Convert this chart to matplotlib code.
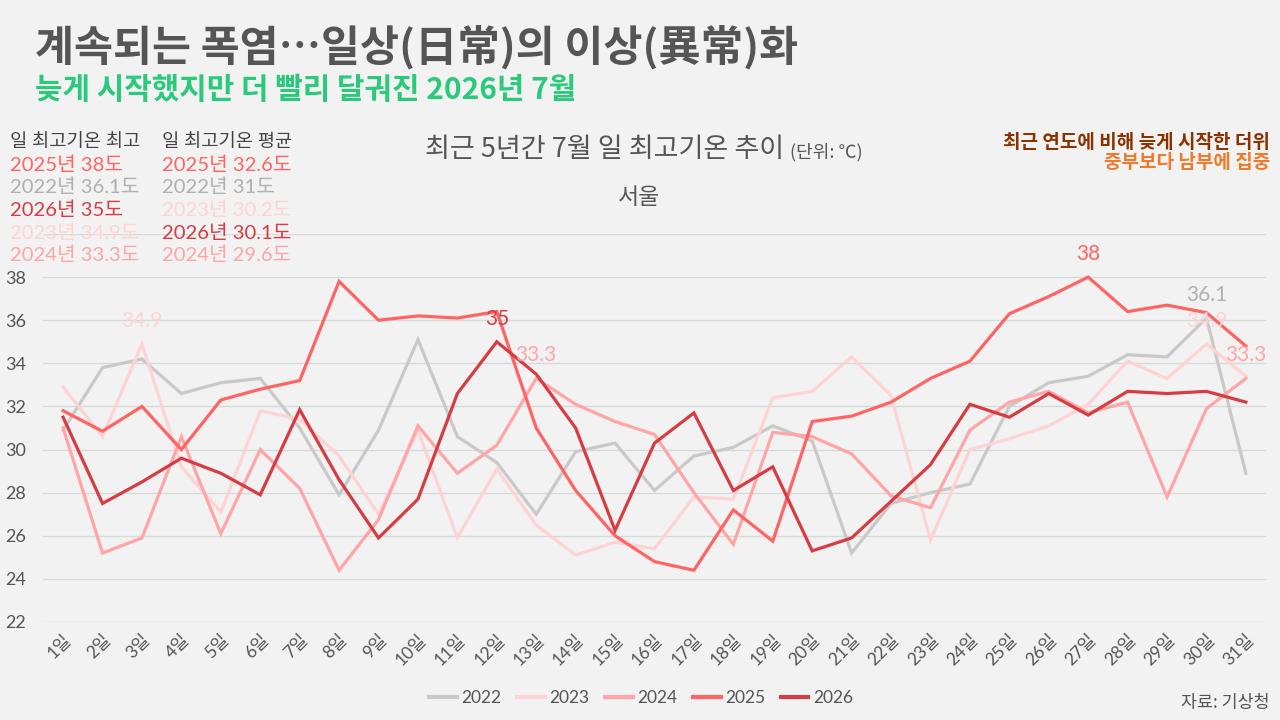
import matplotlib
matplotlib.use("Agg")
import matplotlib.pyplot as plt
from matplotlib.lines import Line2D

plt.rcParams['font.family'] = ['Lato', 'Noto Sans CJK KR', 'DejaVu Sans']
KR = ['Noto Sans CJK KR', 'DejaVu Sans']

# --- data: July daily max temperature, Seoul (°C) ---
days = list(range(1, 32))
day_labels = [f"{d}일" for d in days]
years = ["2022", "2023", "2024", "2025", "2026"]
t2022 = [30.9, 33.8, 34.2, 32.6, 33.1, 33.3, 31.0, 27.9, 30.9, 35.1,
         30.6, 29.4, 27.0, 29.9, 30.3, 28.1, 29.7, 30.1, 31.1, 30.4, 25.2,
         27.5, 28.0, 28.4, 32.0, 33.1, 33.4, 34.4, 34.3, 36.1, 28.9]
t2023 = [32.9, 30.6, 34.9, 29.2, 27.1, 31.8, 31.4, 29.7, 27.0, 30.9,
         25.9, 29.1, 26.5, 25.1, 25.7, 25.4, 27.8, 27.7, 32.4, 32.7, 34.3,
         32.5, 25.8, 30.0, 30.5, 31.1, 32.1, 34.1, 33.3, 34.9, 33.4]
t2024 = [31.0, 25.2, 25.9, 30.6, 26.1, 30.0, 28.2, 24.4, 26.75, 31.1,
         28.9, 30.2, 33.3, 32.1, 31.3, 30.7, 28.0, 25.6, 30.8, 30.6, 29.8,
         27.85, 27.3, 30.9, 32.2, 32.7, 31.7, 32.2, 27.8, 31.9, 33.3]
t2025 = [31.8, 30.85, 32.0, 30.0, 32.3, 32.8, 33.2, 37.8, 36.0, 36.2,
         36.1, 36.4, 31.0, 28.1, 26.0, 24.8, 24.4, 27.2, 25.75, 31.3, 31.55,
         32.2, 33.3, 34.1, 36.3, 37.1, 38.0, 36.4, 36.7, 36.35, 34.8]
t2026 = [31.5, 27.5, 28.5, 29.6, 28.9, 27.9, 31.85, 28.6, 25.9, 27.7,
         32.6, 35.0, 33.5, 31.0, 26.25, 30.3, 31.7, 28.1, 29.2, 25.3, 25.9,
         27.6, 29.3, 32.1, 31.5, 32.6, 31.6, 32.7, 32.6, 32.7, 32.2]
series = [t2022, t2023, t2024, t2025, t2026]

# points that get a value label: (year, day)
peak_labels = [("2023", 3), ("2026", 12), ("2024", 13), ("2025", 27),
               ("2022", 30), ("2023", 30), ("2024", 31)]

# left side ranking blocks
max_rank = [("2025", "38"), ("2022", "36.1"), ("2026", "35"), ("2023", "34.9"), ("2024", "33.3")]
avg_rank = [("2025", "32.6"), ("2022", "31"), ("2023", "30.2"), ("2026", "30.1"), ("2024", "29.6")]

line_colors = {"2022": "#c9c9c9", "2023": "#ffd3d3", "2024": "#ffa5a5",
               "2025": "#ff6464", "2026": "#d63c42"}
text_colors = {"2022": "#b0b0b0", "2023": "#ffd3d3", "2024": "#ffa5a5",
               "2025": "#ff6464", "2026": "#d63c42"}

BG = "#f2f2f2"
W, H = 1280, 720


def px(x, y):
    return x / W, 1 - y / H


fig = plt.figure(figsize=(12.8, 7.2), dpi=100, facecolor=BG)
ax = fig.add_axes([43 / W, 1 - 622 / H, 1223 / W, (622 - 234) / H])
ax.set_facecolor(BG)

for yr, vals in zip(years, series):
    ax.plot(days, vals, color=line_colors[yr], lw=2.3, solid_joinstyle="miter", zorder=3)

for yr, d in peak_labels:
    v = series[years.index(yr)][d - 1]
    ax.annotate(f"{v:g}", (d, v), xytext=(0, 23), textcoords="offset pixels",
                ha="center", va="center", fontsize=15, color=text_colors[yr],
                zorder=5, annotation_clip=False)

ax.set_xlim(0.49, 31.51)
ax.set_ylim(22, 40)
ax.set_yticks(range(22, 41, 2))
ax.set_yticklabels([str(v) if v <= 38 else "" for v in range(22, 41, 2)])
ax.set_xticks(days)
ax.set_xticklabels(day_labels, rotation=45, ha="right", rotation_mode="anchor",
                   family=['Lato', 'Noto Sans CJK KR'])
ax.tick_params(axis="both", length=0, colors="#555555")
ax.tick_params(axis="y", labelsize=13, pad=12)
ax.tick_params(axis="x", labelsize=12.5, pad=7)
ax.grid(axis="y", color="#d5dbdb", lw=1, zorder=0)
for s in ax.spines.values():
    s.set_visible(False)

# titles
fig.text(*px(35, 47), "계속되는 폭염…일상(日常)의 이상(異常)화", family=KR, weight="bold",
         fontsize=30.5, color="#555555", va="center", ha="left")
fig.text(*px(35, 90), "늦게 시작했지만 더 빨리 달궈진 2026년 7월", family=KR, weight="bold",
         fontsize=21.5, color="#2bc97b", va="center", ha="left")

fig.text(*px(784, 157), "최근 5년간 7월 일 최고기온 추이", family=KR, fontsize=19.5,
         color="#555555", ha="right", va="baseline")
fig.text(*px(790, 157), "(단위: ℃)", family=KR, fontsize=13,
         color="#555555", ha="left", va="baseline")
fig.text(*px(639, 197), "서울", family=KR, fontsize=16.5, color="#555555",
         ha="center", va="center")

fig.text(*px(1270, 142), "최근 연도에 비해 늦게 시작한 더위", family=KR, weight="bold",
         fontsize=13.7, color="#8a3300", ha="right", va="center")
fig.text(*px(1270, 163), "중부보다 남부에 집중", family=KR, weight="bold",
         fontsize=13.7, color="#f07a2a", ha="right", va="center")

# left ranking blocks
for x0, head, rank in [(10, "일 최고기온 최고", max_rank), (162, "일 최고기온 평균", avg_rank)]:
    fig.text(*px(x0, 142), head, fontsize=13.5, color="#444444", ha="left", va="center")
    for i, (yr, val) in enumerate(rank):
        fig.text(*px(x0, 165 + i * 22.6), f"{yr}년 {val}도", fontsize=14.6,
                 color=text_colors[yr], ha="left", va="center")

# legend
handles = [Line2D([], [], color=line_colors[yr], lw=3) for yr in years]
fig.legend(handles, years, loc="center", bbox_to_anchor=px(641, 698), ncol=5,
           frameon=False, fontsize=12.5, handlelength=1.6, handletextpad=0.25,
           columnspacing=0.9, labelcolor="#555555")

fig.text(*px(1270, 703), "자료: 기상청", family=KR, fontsize=12.5, color="#555555",
         ha="right", va="center")

fig.savefig("out.png", dpi=100, facecolor=BG)
